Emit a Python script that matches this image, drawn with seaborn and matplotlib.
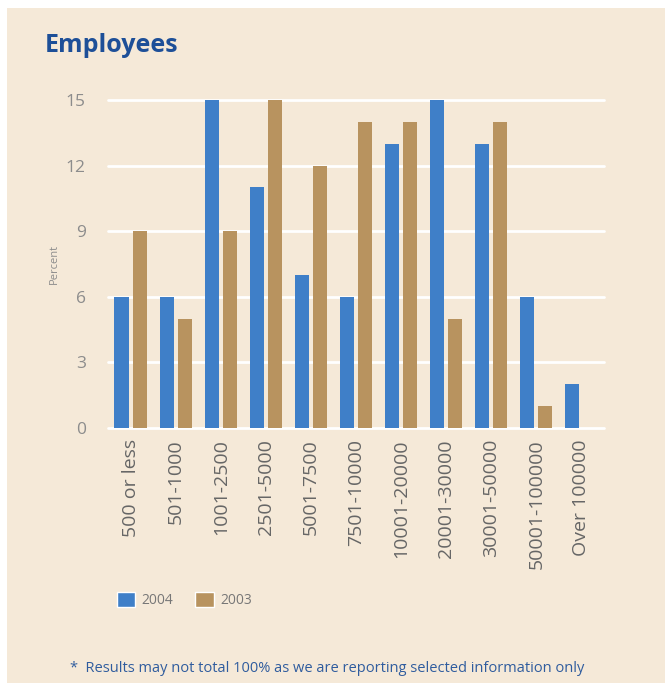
import matplotlib
matplotlib.use("Agg")
import matplotlib.pyplot as plt
import matplotlib.patches as mpatches
import seaborn as sns
import pandas as pd

categories = ["500 or less", "501-1000", "1001-2500", "2501-5000", "5001-7500",
              "7501-10000", "10001-20000", "20001-30000", "30001-50000",
              "50001-100000", "Over 100000"]
pct_2004 = [6, 6, 15, 11, 7, 6, 13, 15, 13, 6, 2]
pct_2003 = [9, 5, 9, 15, 12, 14, 14, 5, 14, 1, 0]
years = ["2004", "2003"]
y_ticks = [0, 3, 6, 9, 12, 15]

BG = "#F5E9D8"
BLUE = "#3F7FC8"
TAN = "#B8935F"
TITLE_BLUE = "#1D4F98"

sns.set_theme(style="white")
plt.rcParams["font.family"] = ["Open Sans", "DejaVu Sans"]

df = pd.DataFrame({
    "Size": categories * 2,
    "Percent": pct_2004 + pct_2003,
    "Year": [years[0]] * len(categories) + [years[1]] * len(categories),
})

fig = plt.figure(figsize=(6.65, 6.83), dpi=100)
fig.patch.set_facecolor("white")
# beige panel with a thin white margin on the top and left
fig.add_artist(mpatches.Rectangle((7 / 665, 0), 1 - 7 / 665, 1 - 8 / 683,
                                  transform=fig.transFigure, facecolor=BG,
                                  edgecolor="none", zorder=-10))

ax = fig.add_axes([108 / 665, 1 - 428 / 683, 496 / 665, 328 / 683])
ax.set_facecolor("none")

sns.barplot(data=df, x="Size", y="Percent", hue="Year", hue_order=years,
            palette=[BLUE, TAN], width=0.8, gap=0.22, saturation=1,
            linewidth=0, edgecolor="none", legend=False, ax=ax, zorder=3)

ax.set_ylim(0, 15)
ax.set_xlim(-0.5, len(categories) - 0.5)
ax.set_yticks(y_ticks)
for t in y_ticks:
    ax.axhline(t, color="white", lw=2, zorder=1, clip_on=False)
for s in ax.spines.values():
    s.set_visible(False)

ax.tick_params(axis="y", length=0, pad=16, labelsize=12.5, labelcolor="#8C8C8C")
ax.tick_params(axis="x", length=0, pad=8, labelsize=14, labelcolor="#666666")
ax.set_xticks(range(len(categories)))
ax.set_xticklabels(categories, rotation=90)
ax.set_xlabel("")
ax.set_ylabel("Percent", fontsize=8, color="#8C8C8C", labelpad=4)

fig.text(45 / 665, 1 - 45 / 683, "Employees", fontsize=18, fontweight="bold",
         color=TITLE_BLUE, va="center", ha="left")

handles = [mpatches.Patch(facecolor=BLUE, label=years[0]),
           mpatches.Patch(facecolor=TAN, label=years[1])]
fig.legend(handles=handles, loc="center left",
           bbox_to_anchor=(104 / 665, 1 - 600 / 683), ncol=2, frameon=False,
           fontsize=10, labelcolor="#777777", handlelength=1.3, handleheight=1.3,
           columnspacing=1.6, handletextpad=0.5)

fig.text(70 / 665, 1 - 668 / 683,
         "*  Results may not total 100% as we are reporting selected information only",
         fontsize=10.5, color="#2F5C9E", va="center", ha="left")

fig.savefig("out.png", dpi=100, facecolor=fig.get_facecolor())
